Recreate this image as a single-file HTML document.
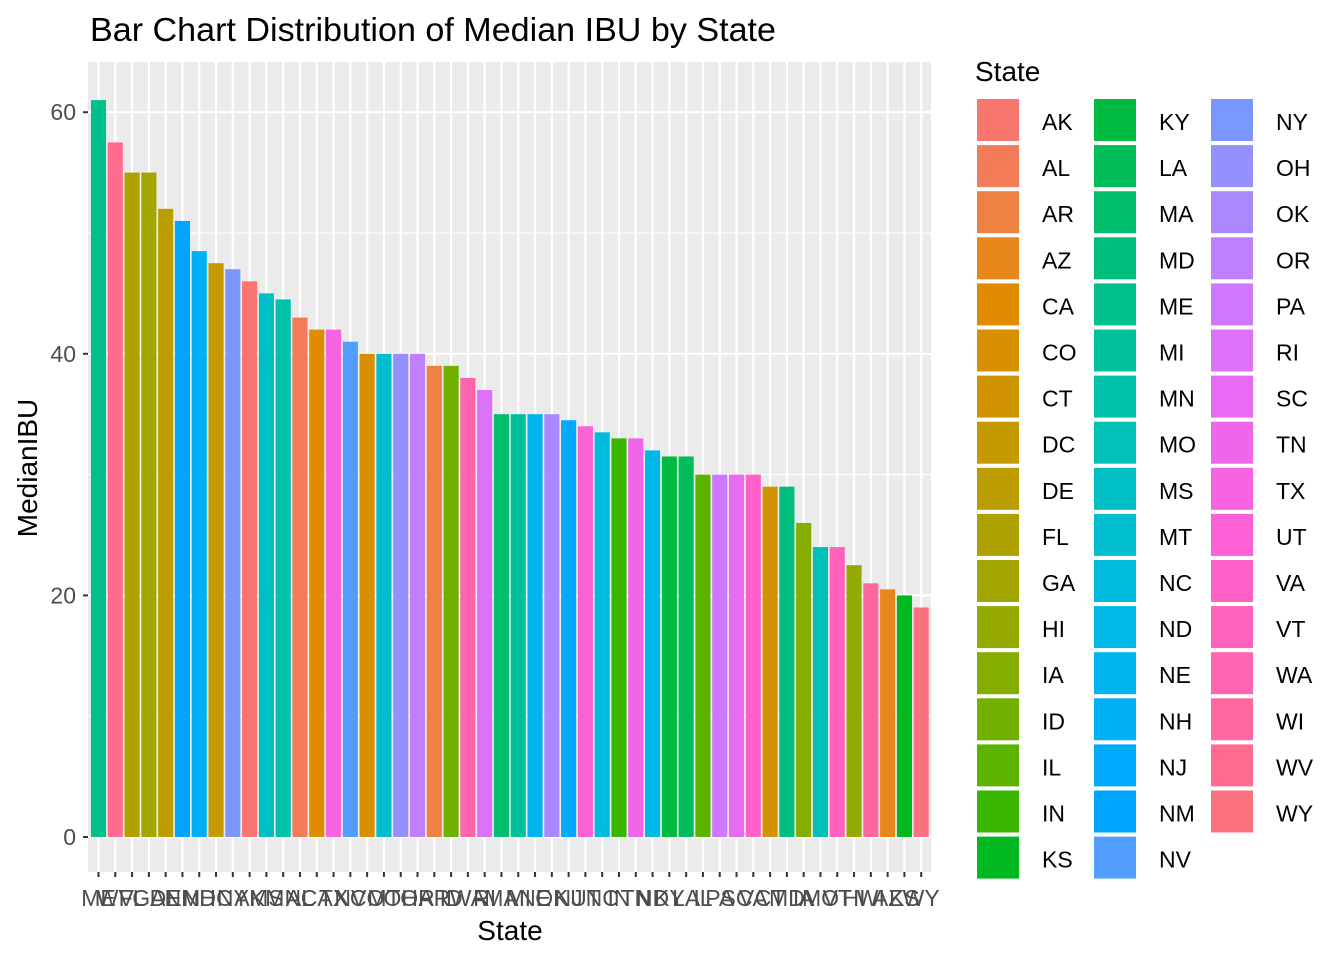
<!DOCTYPE html>
<html><head><meta charset="utf-8"><style>
body{margin:0;background:#fff;}
svg{display:block;font-family:"Liberation Sans",Arial,sans-serif;}
</style></head><body>
<svg id="c" width="1344" height="960" viewBox="0 0 1344 960"></svg>
<script>
const states = ["ME","WV","FL","GA","DE","NM","NH","DC","NY","AK","MS","MN","AL","CA","TX","NV","CO","MT","OH","OR","AR","ID","WA","RI","MA","MI","NE","OK","NJ","UT","NC","IN","TN","ND","KY","LA","IL","PA","SC","VA","CT","MD","IA","MO","VT","HI","WI","AZ","KS","WY"];
const values = [61,57.5,55,55,52,51,48.5,47.5,47,46,45,44.5,43,42,42,41,40,40,40,40,39,39,38,37,35,35,35,35,34.5,34,33.5,33,33,32,31.5,31.5,30,30,30,30,29,29,26,24,24,22.5,21,20.5,20,19];
const legendStates = ["AK","AL","AR","AZ","CA","CO","CT","DC","DE","FL","GA","HI","IA","ID","IL","IN","KS","KY","LA","MA","MD","ME","MI","MN","MO","MS","MT","NC","ND","NE","NH","NJ","NM","NV","NY","OH","OK","OR","PA","RI","SC","TN","TX","UT","VA","VT","WA","WI","WV","WY"];
const yTicks = [0,20,40,60];
const yMinor = [10,30,50];

const NS="http://www.w3.org/2000/svg";
const svg=document.getElementById('c');
function mk(t,a,p){const e=document.createElementNS(NS,t);for(const k in a)e.setAttribute(k,a[k]);(p||svg).appendChild(e);return e;}
function hcl(h){const L=65,C=100;const hr=h*Math.PI/180;const u=C*Math.cos(hr),v=C*Math.sin(hr);
const Xn=95.047,Yn=100,Zn=108.883;const d=Xn+15*Yn+3*Zn;const un=4*Xn/d,vn=9*Yn/d;
const Y=Math.pow((L+16)/116,3);const up=u/(13*L)+un,vp=v/(13*L)+vn;
const X=Y*9*up/(4*vp),Z=Y*(12-3*up-20*vp)/(4*vp);
let r=3.2404542*X-1.5371385*Y-0.4985314*Z,g=-0.9692660*X+1.8760108*Y+0.0415560*Z,b=0.0556434*X-0.2040259*Y+1.0572252*Z;
const gm=c=>{c=c<=0.0031308?12.92*c:1.055*Math.pow(c,1/2.4)-0.055;return Math.round(Math.max(0,Math.min(1,c))*255);};
return `rgb(${gm(r)},${gm(g)},${gm(b)})`;}
const n=legendStates.length;
const colorOf={};legendStates.forEach((s,i)=>colorOf[s]=hcl(15+i*360/n));

const PL=88,PR=931,PT=62,PB=872;
const x=i=>98.5+i*16.79;
const bw=15.1;
const y=v=>837-v*12.08;

const panel=mk('rect',{x:PL,y:PT,width:PR-PL,height:PB-PT,fill:'#EBEBEB'});


yMinor.forEach(v=>{const l=mk('line',{x1:PL,x2:PR,y1:y(v),y2:y(v),stroke:'#fff','stroke-width':1.1});

});
yTicks.forEach(v=>{const l=mk('line',{x1:PL,x2:PR,y1:y(v),y2:y(v),stroke:'#fff','stroke-width':2.2});


const t=mk('line',{x1:83,x2:PL,y1:y(v),y2:y(v),stroke:'#333','stroke-width':2});


const tx=mk('text',{x:76,y:y(v)+8,'text-anchor':'end','font-size':23,fill:'#4D4D4D'});tx.textContent=v;

});
states.forEach((s,i)=>{const l=mk('line',{x1:x(i),x2:x(i),y1:PT,y2:PB,stroke:'#fff','stroke-width':2.2});

});
states.forEach((s,i)=>{
const r=mk('rect',{x:x(i)-bw/2,y:y(values[i]),width:bw,height:y(0)-y(values[i]),fill:colorOf[s]});


const t=mk('line',{x1:x(i),x2:x(i),y1:PB,y2:PB+5,stroke:'#333','stroke-width':2});


const tx=mk('text',{x:x(i),y:906,'text-anchor':'middle','font-size':23,fill:'#4D4D4D'});tx.textContent=s;


});
const title=mk('text',{x:90,y:41,'font-size':33,fill:'#000',textLength:686,lengthAdjust:'spacingAndGlyphs'});title.textContent='Bar Chart Distribution of Median IBU by State';


const xt=mk('text',{x:510,y:940,'text-anchor':'middle','font-size':28,fill:'#000'});xt.textContent='State';


const yt=mk('text',{x:0,y:0,'text-anchor':'middle','font-size':28,fill:'#000',transform:'translate(37,468) rotate(-90)'});yt.textContent='MedianIBU';


const lt=mk('text',{x:975,y:81,'font-size':28,fill:'#000'});lt.textContent='State';


const colX=[977,1094,1211],rows=17;
legendStates.forEach((s,i)=>{const c=Math.floor(i/rows),r=i%rows;const ky=99+r*46.1;
const g=mk('g',{});


mk('rect',{x:colX[c],y:ky,width:42,height:42,fill:colorOf[s]},g);
const t=mk('text',{x:colX[c]+65,y:ky+31,'font-size':23,fill:'#000'},g);t.textContent=s;});
</script>
</body></html>
